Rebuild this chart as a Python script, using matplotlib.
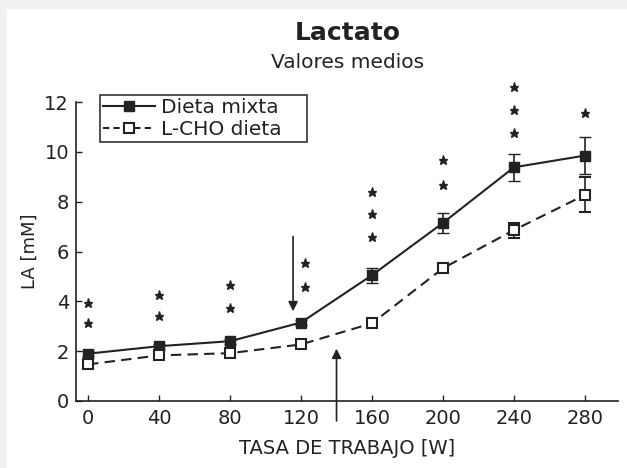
import matplotlib
matplotlib.use('Agg')
import matplotlib.pyplot as plt
from matplotlib.patches import Rectangle
from matplotlib.lines import Line2D

# carga de trabajo [W]
watts = [0, 40, 80, 120, 160, 200, 240, 280]
mixta = [1.9, 2.2, 2.4, 3.15, 5.05, 7.15, 9.38, 9.85]
mixta_err = [0.1, 0.1, 0.1, 0.1, 0.3, 0.4, 0.55, 0.75]
lcho = [1.47, 1.83, 1.92, 2.27, 3.12, 5.33, 6.86, 8.27]
lcho_err = [0.1, 0.1, 0.1, 0.1, 0.1, 0.15, 0.3, 0.7]

# asteriscos de significancia
star_x = [0, 0, 40, 40, 80, 80, 122, 122, 160, 160, 160, 200, 200, 240, 240, 240, 280]
star_y = [3.92, 3.12, 4.25, 3.4, 4.65, 3.72, 5.53, 4.57, 8.4, 7.5, 6.58, 9.67, 8.67,
          12.6, 11.69, 10.76, 11.57]

x_ticks = [0, 40, 80, 120, 160, 200, 240, 280]
y_ticks = [0, 2, 4, 6, 8, 10, 12]

ink = '#222222'

fig = plt.figure(figsize=(6.27, 4.68), dpi=100)
fig.patch.set_facecolor('white')
# borde gris arriba e izquierda
fig.patches.append(Rectangle((0, 1 - 9 / 468), 1, 9 / 468, transform=fig.transFigure,
                             facecolor='#f0f0f0', edgecolor='none', zorder=-10))
fig.patches.append(Rectangle((0, 0), 7 / 627, 1, transform=fig.transFigure,
                             facecolor='#f0f0f0', edgecolor='none', zorder=-10))

ax = fig.add_axes([76 / 627, 67 / 468, 542 / 627, 299 / 468])
ax.set_facecolor('none')

ax.errorbar(watts, mixta, yerr=mixta_err, color=ink, lw=1.5, marker='s', ms=7.5,
            mfc=ink, mec=ink, capsize=4, elinewidth=1.2, zorder=3)
ax.errorbar(watts, lcho, yerr=lcho_err, color=ink, lw=1.5, ls=(0, (5, 3)), marker='s', ms=7.5,
            mfc='white', mec=ink, mew=1.5, capsize=4, elinewidth=1.2, zorder=3)

ax.plot(star_x, star_y, ls='none', marker='*', ms=6.5, color=ink, clip_on=False)

# flechas
ax.annotate('', xy=(115.5, 3.6), xytext=(115.5, 6.6),
            arrowprops=dict(arrowstyle='-|>', color=ink, lw=1.2, mutation_scale=14,
                            shrinkA=0, shrinkB=0))
ax.annotate('', xy=(140, 2.1), xytext=(140, -0.8),
            arrowprops=dict(arrowstyle='-|>', color=ink, lw=1.2, mutation_scale=14,
                            shrinkA=0, shrinkB=0), annotation_clip=False)

ax.set_xlim(-6.8, 298.6)
ax.set_ylim(0, 12)
ax.set_xticks(x_ticks)
ax.set_yticks(y_ticks)
ax.spines['top'].set_visible(False)
ax.spines['right'].set_visible(False)
ax.spines['left'].set_linewidth(1.2)
ax.spines['bottom'].set_linewidth(1.2)
ax.spines['left'].set_color(ink)
ax.spines['bottom'].set_color(ink)
ax.tick_params(direction='in', length=4, width=1, labelsize=14, colors=ink)
ax.tick_params(axis='x', pad=6)
ax.tick_params(axis='y', pad=5)

ax.set_xlabel('TASA DE TRABAJO [W]', fontsize=14, labelpad=8, color=ink)
ax.set_ylabel('LA [mM]', fontsize=13, labelpad=4, color=ink)

fig.text(0.555, 0.929, 'Lactato', ha='center', va='center', fontsize=18, fontweight='bold',
         color=ink)
fig.text(0.555, 0.866, 'Valores medios', ha='center', va='center', fontsize=14.5, color=ink)

handles = [Line2D([], [], color=ink, lw=1.5, marker='s', ms=7, mfc=ink, mec=ink),
           Line2D([], [], color=ink, lw=1.5, ls=(0, (3, 2)), marker='s', ms=7, mfc='white',
                  mec=ink, mew=1.5)]
leg = fig.legend(handles, ['Dieta mixta', 'L-CHO dieta'], loc='upper left',
                 bbox_to_anchor=(100 / 627, 1 - 148 / 468, 207 / 627, 53 / 468), mode='expand',
                 fontsize=14.5, frameon=True, fancybox=False, borderaxespad=0,
                 handlelength=2.6, handletextpad=0.3, borderpad=0.15, labelspacing=0.15)
leg.get_frame().set_edgecolor('black')
leg.get_frame().set_linewidth(1.2)
for t in leg.get_texts():
    t.set_color(ink)

fig.savefig('out.png', dpi=100, facecolor=fig.get_facecolor())
